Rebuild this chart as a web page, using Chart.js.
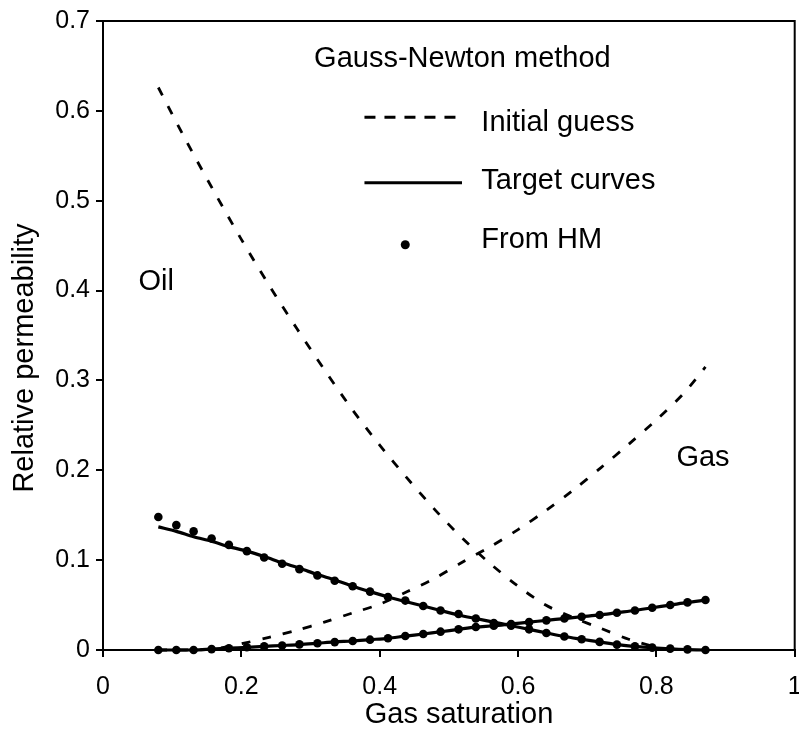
<!DOCTYPE html>
<html>
<head>
<meta charset="utf-8">
<script src="https://cdn.jsdelivr.net/npm/chart.js@4.4.0/dist/chart.umd.min.js"></script>
<style>
html,body{margin:0;padding:0;background:#fff;}
#wrap{position:relative;width:799px;height:750px;}
canvas{display:block;}
</style>
</head>
<body>
<div id="wrap"><canvas id="c" width="799" height="750"></canvas></div>
<script>
// ---- data ----
const sgHM = [0.080,0.106,0.131,0.157,0.182,0.208,0.233,0.259,0.284,0.310,0.335,0.361,0.386,0.412,0.437,0.463,0.488,0.514,0.539,0.565,0.590,0.616,0.641,0.667,0.692,0.718,0.743,0.769,0.794,0.820,0.845,0.871];
const oilHM = [0.148,0.139,0.132,0.124,0.117,0.110,0.103,0.096,0.090,0.083,0.077,0.071,0.065,0.059,0.055,0.049,0.044,0.040,0.035,0.030,0.027,0.023,0.019,0.015,0.012,0.009,0.006,0.004,0.0026,0.0015,0.0007,0.000];
const gasHM = [0.000,0.000,0.000,0.001,0.002,0.003,0.004,0.005,0.0063,0.0075,0.0088,0.010,0.0115,0.013,0.0156,0.0178,0.0204,0.023,0.0256,0.027,0.029,0.031,0.033,0.035,0.037,0.039,0.0415,0.044,0.047,0.050,0.053,0.0556];
const oilTarget = [0.137,0.132,0.126,0.121,0.115,0.110,0.104,0.097,0.091,0.084,0.078,0.071,0.065,0.059,0.054,0.049,0.044,0.039,0.035,0.031,0.027,0.023,0.019,0.015,0.012,0.009,0.006,0.004,0.0025,0.0013,0.0005,0.000];
const gasTarget = [0.000,0.000,0.000,0.001,0.002,0.003,0.004,0.005,0.006,0.0075,0.009,0.010,0.0115,0.013,0.0155,0.0178,0.0203,0.023,0.0255,0.027,0.029,0.031,0.033,0.035,0.037,0.039,0.0415,0.044,0.047,0.050,0.053,0.0555];
const sgInitOil = [0.080,0.120,0.160,0.200,0.240,0.280,0.320,0.360,0.400,0.440,0.480,0.520,0.560,0.600,0.640,0.680,0.720,0.760,0.800,0.820];
const oilInit = [0.626,0.567,0.511,0.457,0.406,0.358,0.312,0.268,0.228,0.191,0.156,0.124,0.096,0.071,0.050,0.036,0.024,0.012,0.003,0.000];
const sgInitGas = [0.080,0.120,0.160,0.200,0.240,0.280,0.320,0.360,0.400,0.440,0.480,0.520,0.560,0.600,0.640,0.680,0.720,0.760,0.800,0.840,0.871];
const gasInit = [0.000,0.000,0.001,0.007,0.014,0.022,0.031,0.041,0.051,0.065,0.080,0.098,0.115,0.134,0.155,0.178,0.203,0.229,0.256,0.286,0.315];

const xTickValues = [0,0.2,0.4,0.6,0.8,1];
const xTickLabels = ['0','0.2','0.4','0.6','0.8','1'];
const yTickValues = [0,0.1,0.2,0.3,0.4,0.5,0.6,0.7];
const yTickLabels = ['0','0.1','0.2','0.3','0.4','0.5','0.6','0.7'];

const chartTitle = 'Gauss-Newton method';
const legendLabels = ['Initial guess','Target curves','From HM'];
const phaseLabels = ['Oil','Gas'];
const xTitle = 'Gas saturation';
const yTitle = 'Relative permeability';

const FONT = '"Liberation Sans", Arial, Helvetica, sans-serif';

function pts(xs, ys){ return xs.map((x,i)=>({x:x, y:ys[i]})); }
function lbl(vals, labels){ return v => { const i = vals.findIndex(t => Math.abs(t - v) < 1e-6); return i >= 0 ? labels[i] : ''; }; }

const DASH = [9, 12];

const overlay = {
  id: 'overlay',
  afterDraw(chart){
    const ctx = chart.ctx, a = chart.chartArea;
    const xs = chart.scales.x, ys = chart.scales.y;
    const X = v => xs.getPixelForValue(v), Y = v => ys.getPixelForValue(v);
    ctx.save();
    // frame top/right
    ctx.strokeStyle = '#000'; ctx.lineWidth = 2; ctx.setLineDash([]);
    ctx.beginPath();
    ctx.moveTo(a.left, a.top); ctx.lineTo(a.right, a.top); ctx.lineTo(a.right, a.bottom);
    ctx.stroke();

    ctx.fillStyle = '#000';
    ctx.font = '29px ' + FONT;
    ctx.textBaseline = 'alphabetic';
    // title
    ctx.textAlign = 'right';
    ctx.fillText(chartTitle, X(0.734), Y(0.649));
    // legend
    ctx.textAlign = 'left';
    const lx0 = X(0.378), lx1 = X(0.519), tx = X(0.547);
    ctx.lineWidth = 3; ctx.setLineDash([11, 9]);
    ctx.beginPath(); ctx.moveTo(lx0, Y(0.593)); ctx.lineTo(lx1, Y(0.593)); ctx.stroke();
    ctx.setLineDash([]);
    ctx.lineWidth = 3.2;
    ctx.beginPath(); ctx.moveTo(lx0, Y(0.520)); ctx.lineTo(lx1, Y(0.520)); ctx.stroke();
    ctx.beginPath(); ctx.arc(X(0.437), Y(0.451), 4.5, 0, Math.PI*2); ctx.fill();
    ctx.fillText(legendLabels[0], tx, Y(0.578));
    ctx.fillText(legendLabels[1], tx, Y(0.5125));
    ctx.fillText(legendLabels[2], tx, Y(0.447));
    // phase labels
    ctx.fillText(phaseLabels[0], X(0.0513), Y(0.401));
    ctx.fillText(phaseLabels[1], X(0.829), Y(0.2047));
    // axis titles
    ctx.textAlign = 'center';
    ctx.fillText(xTitle, 459, 723);
    ctx.translate(33, 358);
    ctx.rotate(-Math.PI/2);
    ctx.fillText(yTitle, 0, 0);
    ctx.restore();
  }
};

new Chart(document.getElementById('c'), {
  type: 'scatter',
  data: {
    datasets: [
      { label: 'Oil initial guess', data: pts(sgInitOil, oilInit), showLine: true, borderColor:'#000', borderWidth: 2.8, borderDash: DASH, pointRadius: 0, fill: false, clip: false, order: 5 },
      { label: 'Gas initial guess', data: pts(sgInitGas, gasInit), showLine: true, borderColor:'#000', borderWidth: 2.8, borderDash: DASH, pointRadius: 0, fill: false, clip: false, order: 4 },
      { label: 'Oil target', data: pts(sgHM, oilTarget), showLine: true, borderColor:'#000', borderWidth: 3.2, pointRadius: 0, fill: false, clip: false, order: 3 },
      { label: 'Gas target', data: pts(sgHM, gasTarget), showLine: true, borderColor:'#000', borderWidth: 3.2, pointRadius: 0, fill: false, clip: false, order: 2 },
      { label: 'Oil from HM', data: pts(sgHM, oilHM), showLine: false, pointRadius: 4.3, pointBorderWidth: 0, pointBackgroundColor:'#000', clip: false, order: 1 },
      { label: 'Gas from HM', data: pts(sgHM, gasHM), showLine: false, pointRadius: 4.3, pointBorderWidth: 0, pointBackgroundColor:'#000', clip: false, order: 0 }
    ]
  },
  options: {
    responsive: false,
    animation: false,
    devicePixelRatio: 1,
    layout: { padding: { top: 21, right: 2, bottom: 0, left: 0 } },
    plugins: { legend: { display: false }, tooltip: { enabled: false } },
    elements: { line: { tension: 0.3 } },
    scales: {
      x: {
        type: 'linear', min: 0, max: 1,
        afterBuildTicks: s => { s.ticks = xTickValues.map(v => ({value: v})); },
        ticks: { callback: lbl(xTickValues, xTickLabels), color: '#000', font: { family: FONT, size: 25 }, padding: 15, maxRotation: 0, autoSkip: false },
        grid: { display: true, drawOnChartArea: false, drawTicks: true, tickLength: 7, color: '#000', lineWidth: 2 },
        border: { display: true, color: '#000', width: 2 },
        title: { display: false },
        afterFit: s => { s.height = 100; s.paddingLeft = 0; s.paddingRight = 0; }
      },
      y: {
        type: 'linear', min: 0, max: 0.7,
        afterBuildTicks: s => { s.ticks = yTickValues.map(v => ({value: v})); },
        ticks: { callback: lbl(yTickValues, yTickLabels), color: '#000', font: { family: FONT, size: 25 }, padding: 6, autoSkip: false },
        grid: { display: true, drawOnChartArea: false, drawTicks: true, tickLength: 7, color: '#000', lineWidth: 2 },
        border: { display: true, color: '#000', width: 2 },
        title: { display: false },
        afterFit: s => { s.width = 103; s.paddingTop = 0; s.paddingBottom = 0; }
      }
    }
  },
  plugins: [overlay]
});
</script>
</body>
</html>
